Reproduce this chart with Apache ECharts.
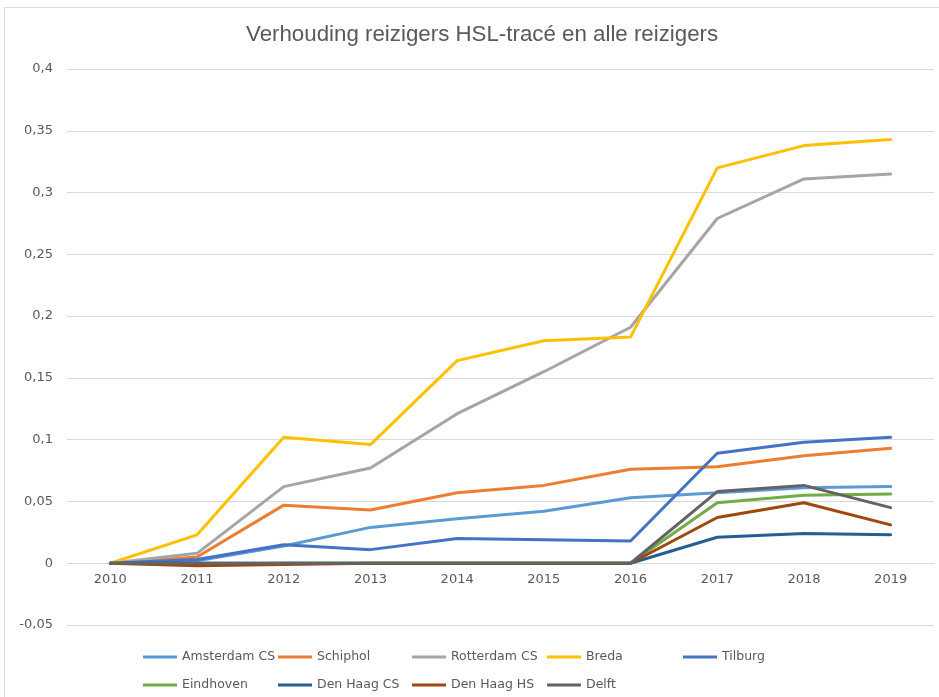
<!DOCTYPE html>
<html>
<head>
<meta charset="utf-8">
<script src="https://cdn.jsdelivr.net/npm/echarts@6/dist/echarts.min.js"></script>
<style>
html,body{margin:0;padding:0;background:#fff;}
#chart{width:939px;height:697px;}
</style>
</head>
<body>
<div id="chart"></div>
<script>
const titleText = 'Verhouding reizigers HSL-tracé en alle reizigers';
const years = ['2010','2011','2012','2013','2014','2015','2016','2017','2018','2019'];
const yTicks = { min: -0.05, max: 0.4, interval: 0.05 };

const amsterdamCS = [0, 0.002, 0.014, 0.029, 0.036, 0.042, 0.053, 0.057, 0.061, 0.062];
const schiphol    = [0, 0.005, 0.047, 0.043, 0.057, 0.063, 0.076, 0.078, 0.087, 0.093];
const rotterdamCS = [0, 0.008, 0.062, 0.077, 0.121, 0.155, 0.191, 0.279, 0.311, 0.315];
const breda       = [0, 0.023, 0.102, 0.096, 0.164, 0.180, 0.183, 0.320, 0.338, 0.343];
const tilburg     = [0, 0.003, 0.015, 0.011, 0.020, 0.019, 0.018, 0.089, 0.098, 0.102];
const eindhoven   = [0, -0.001, 0, 0, 0, 0, 0, 0.049, 0.055, 0.056];
const denHaagCS   = [0, 0, 0, 0, 0, 0, 0, 0.021, 0.024, 0.023];
const denHaagHS   = [0, -0.002, -0.001, 0, 0, 0, 0, 0.037, 0.049, 0.031];
const delft       = [0, 0, 0, 0, 0, 0, 0, 0.058, 0.063, 0.045];

const seriesNames = ['Amsterdam CS','Schiphol','Rotterdam CS','Breda','Tilburg','Eindhoven','Den Haag CS','Den Haag HS','Delft'];
const seriesData = [amsterdamCS, schiphol, rotterdamCS, breda, tilburg, eindhoven, denHaagCS, denHaagHS, delft];
const colors = ['#5B9BD5','#ED7D31','#A5A5A5','#FFC000','#4472C4','#70AD47','#255E91','#9E480E','#636363'];

const legendPos = [[143,657],[278,657],[412,657],[547,657],[683,657],[143,685],[278,685],[412,685],[547,685]];

const chart = echarts.init(document.getElementById('chart'), null, {renderer:'canvas'});
const labelFont = 'DejaVu Sans';

const option = {
  animation: false,
  color: colors,
  title: {
    text: titleText,
    left: 246,
    top: 24,
    padding: 0,
    textStyle: { fontFamily: 'Liberation Sans', fontSize: 22.3, fontWeight: 'normal', color: '#595959' }
  },
  graphic: [{
    type: 'rect',
    shape: { x: 4.5, y: 7.5, width: 950, height: 710 },
    style: { fill: 'none', stroke: '#d9d9d9', lineWidth: 1 },
    silent: true
  }],
  legend: seriesNames.map((n, i) => ({
    data: [n],
    left: legendPos[i][0],
    top: legendPos[i][1] - 7,
    padding: 0,
    icon: 'rect',
    itemWidth: 34,
    itemHeight: 3,
    itemGap: 0,
    textStyle: { fontFamily: labelFont, fontSize: 12.5, color: '#595959', lineHeight: 14 }
  })),
  grid: { left: 67, right: 5, top: 69, bottom: 72, containLabel: false },
  xAxis: {
    type: 'category',
    data: years,
    boundaryGap: true,
    offset: -62,
    axisLine: { onZero: false, lineStyle: { color: '#d9d9d9', width: 1 } },
    axisTick: { show: false },
    axisLabel: { color: '#595959', fontFamily: labelFont, fontSize: 13, margin: 10 },
    splitLine: { show: false }
  },
  yAxis: {
    type: 'value',
    min: yTicks.min,
    max: yTicks.max,
    interval: yTicks.interval,
    axisLine: { show: false },
    axisTick: { show: false },
    axisLabel: {
      color: '#595959', fontFamily: labelFont, fontSize: 13, margin: 14,
      formatter: v => String(+v.toFixed(2)).replace('.', ',')
    },
    splitLine: { lineStyle: { color: '#d9d9d9', width: 1 } }
  },
  series: seriesNames.map((n, i) => ({
    name: n,
    type: 'line',
    data: seriesData[i],
    symbol: 'none',
    lineStyle: { width: 3, color: colors[i], cap: 'round', join: 'round' },
    itemStyle: { color: colors[i] },
    z: 2 + i
  }))
};
chart.setOption(option);
</script>
</body>
</html>
